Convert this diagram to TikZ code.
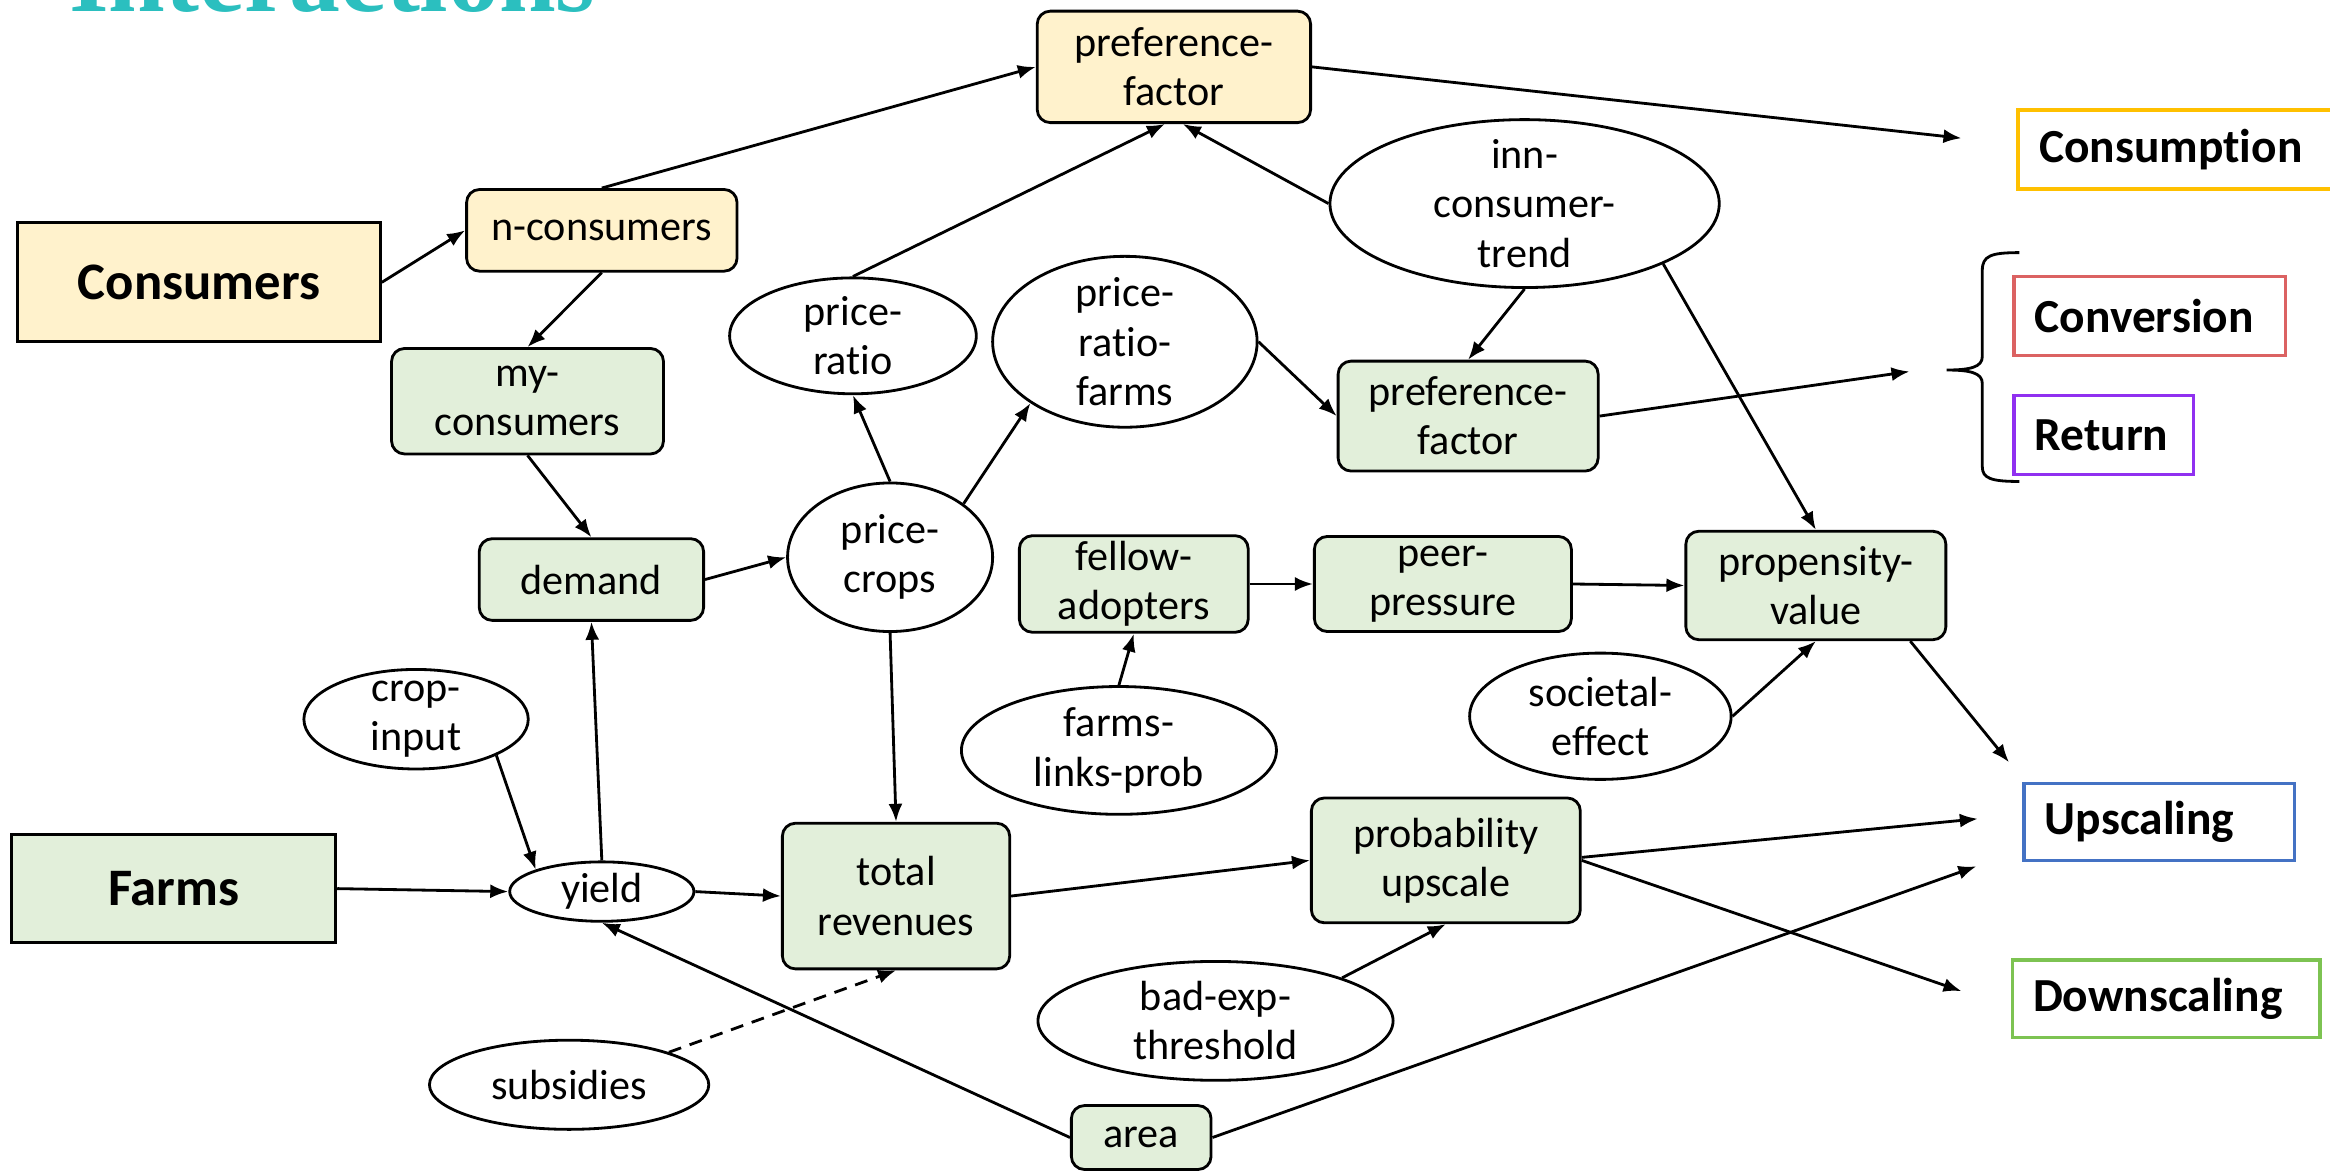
\documentclass[tikz,border=0pt]{standalone}
\usepackage{fontspec}
\setmainfont{Carlito}[RawFeature={-liga,-clig,-calt,-dlig}]
\newfontfamily\headfont{Liberation Serif}
\usetikzlibrary{shapes.geometric,arrows.meta}

\definecolor{cyell}{HTML}{FFF2CC}
\definecolor{cgreen}{HTML}{E2EFDA}
\definecolor{cteal}{HTML}{2BBFBF}
\definecolor{cconsum}{HTML}{FFC000}
\definecolor{cconv}{HTML}{DB6262}
\definecolor{creturn}{HTML}{9030F0}
\definecolor{cup}{HTML}{4472C4}
\definecolor{cdown}{HTML}{7DC352}

\def\pu{0.1486mm}

\begin{document}
\begin{tikzpicture}[x=0.1486mm, y=-0.1486mm,
  sz/.style 2 args={minimum width=#1*\pu, minimum height=#2*\pu},
  base/.style={draw, line width=0.8pt, font=\fontsize{12}{14}\selectfont,
    align=center, inner sep=0pt},
  ybox/.style={base, rounded corners=1.3mm, fill=cyell},
  gbox/.style={base, rounded corners=1.3mm, fill=cgreen},
  oval/.style={base, ellipse, inner sep=-1cm},
  bigbox/.style={base, font=\fontsize{15}{18}\selectfont\bfseries},
  outbox/.style={draw, line width=1pt, font=\fontsize{13.5}{16}\selectfont\bfseries,
    anchor=north west, inner xsep=2.08mm, inner ysep=0pt, align=left},
  arr/.style={-{Latex[length=1.8mm,width=1.4mm]}, line width=0.8pt},
  headline/.style={font=\headfont\fontsize{29}{32}\selectfont\bfseries,
    text=cteal, anchor=base west, inner sep=0pt}
]
\useasboundingbox (0,0) rectangle (1568,788);
\clip (0,0) rectangle (1568,788);

% heading, running off the top edge
\node[headline] (head) at (46,8) {Interactions};

% consumer side
\node[bigbox, fill=cyell, sz={244}{80}] (cons) at (134,190) {Consumers};
\node[ybox, sz={182}{55}] (ncons) at (405,155) {n-consumers};
\node[ybox, sz={184}{75}] (pftop) at (790,45) {preference-\\factor};
\node[gbox, sz={183}{71}] (mycons) at (355,270) {my-\\consumers};
\node[gbox, sz={151}{55}] (demand) at (398,390) {demand};
\node[oval, sz={166}{78}] (pratio) at (574,226) {price-\\ratio};
\node[oval, sz={178}{115}] (prfarms) at (757,230) {price-\\ratio-\\farms};
\node[oval, sz={138}{100}] (pcrops) at (599,375) {price-\\crops};
\node[oval, sz={262}{113}] (inn) at (1026,137) {inn-\\consumer-\\trend};
\node[gbox, sz={175}{74}] (pfgreen) at (988,280) {preference-\\factor};

% farm side
\node[gbox, sz={154}{65}] (fellow) at (763,393) {fellow-\\adopters};
\node[gbox, sz={173}{64}] (peer) at (971,393) {peer-\\pressure};
\node[gbox, sz={175}{73}] (prop) at (1222,394) {propensity-\\value};
\node[oval, sz={176}{85}] (soc) at (1077,482) {societal-\\effect};
\node[oval, sz={212}{86}] (flinks) at (753,505) {farms-\\links-prob};
\node[oval, sz={151}{67}] (cropin) at (280,484) {crop-\\input};
\node[oval, sz={124}{40}] (yield) at (405,600) {yield};
\node[bigbox, fill=cgreen, sz={218}{73}] (farms) at (117,598) {Farms};
\node[gbox, sz={153}{98}] (totrev) at (603,603) {total\\revenues};
\node[gbox, sz={181}{84}] (prob) at (973,579) {probability\\upscale};
\node[oval, sz={239}{80}] (badexp) at (818,687) {bad-exp-\\threshold};
\node[oval, sz={188}{60}] (subs) at (383,730) {subsidies};
\node[gbox, sz={94}{43}] (area) at (768,765.5) {area};

% outcomes
\node[outbox, draw=cconsum, text width=31.5mm, minimum height=53*\pu] (consump) at (1357,73) {Consumption};
\node[outbox, draw=cconv, text width=23.03mm, minimum height=53*\pu] (conv) at (1354,185) {Conversion};
\node[outbox, draw=creturn, text width=13.82mm, minimum height=53*\pu] (ret) at (1354,265) {Return};
\node[outbox, draw=cup, text width=22.88mm, minimum height=52*\pu] (upsc) at (1361,526) {Upscaling};
\node[outbox, draw=cdown, text width=26.6mm, minimum height=52*\pu] (downsc) at (1353,645) {Downscaling};

% brace grouping Conversion and Return
\draw[line width=0.8pt] (1359,170) .. controls (1340,170) and (1334,172) .. (1334,182)
  -- (1334,240) .. controls (1334,247) and (1326,249) .. (1310,249)
  .. controls (1326,249) and (1334,251) .. (1334,258)
  -- (1334,314) .. controls (1334,322) and (1340,324) .. (1359,324);

% free arrow ends in front of the outcomes
\coordinate (consend) at (1320,93);
\coordinate (bracetip) at (1285,250);
\coordinate (upA) at (1352,513);
\coordinate (upB) at (1331,551);
\coordinate (upC) at (1330,583);
\coordinate (downA) at (1320,667);

% connectors
\draw[arr] (cons.east) -- (ncons.west);
\draw[arr] (ncons.north) -- (pftop.west);
\draw[arr] (ncons.south) -- (mycons.north);
\draw[arr] (mycons.south) -- (demand.north);
\draw[arr] (demand.east) -- (pcrops.west);
\draw[arr] (pcrops.north) -- (pratio.south);
\draw[arr] (pcrops.north east) -- (prfarms.south west);
\draw[arr] (pratio.north) -- ([xshift=-0.9mm]pftop.south);
\draw[arr] (inn.west) -- ([xshift=0.9mm]pftop.south);
\draw[arr] (pftop.east) -- (consend);
\draw[arr] (prfarms.east) -- (pfgreen.west);
\draw[arr] (inn.south) -- (pfgreen.north);
\draw[arr] (inn.south east) -- (prop.north);
\draw[arr] (pfgreen.east) -- (bracetip);
\draw[arr] (pcrops.south) -- (totrev.north);
\draw[arr] (fellow.east) -- (peer.west);
\draw[arr] (peer.east) -- (prop.west);
\draw[arr] (flinks.north) -- (fellow.south);
\draw[arr] (soc.east) -- (prop.south);
\draw[arr] ([xshift=-3.7mm]prop.south east) -- (upA);
\draw[arr] (cropin.south east) -- (yield.north west);
\draw[arr] (yield.north) -- (demand.south);
\draw[arr] (farms.east) -- (yield.west);
\draw[arr] (yield.east) -- (totrev.west);
\draw[arr] (totrev.east) -- (prob.west);
\draw[arr] ([yshift=0.3mm]prob.east) -- (upB);
\draw[arr] (prob.east) -- (downA);
\draw[arr] (badexp.north east) -- (prob.south);
\draw[arr, dash pattern=on 1.3mm off 0.9mm] (subs.north east) -- (totrev.south);
\draw[arr] (area.west) -- (yield.south);
\draw[arr] (area.east) -- (upC);
\end{tikzpicture}
\end{document}
